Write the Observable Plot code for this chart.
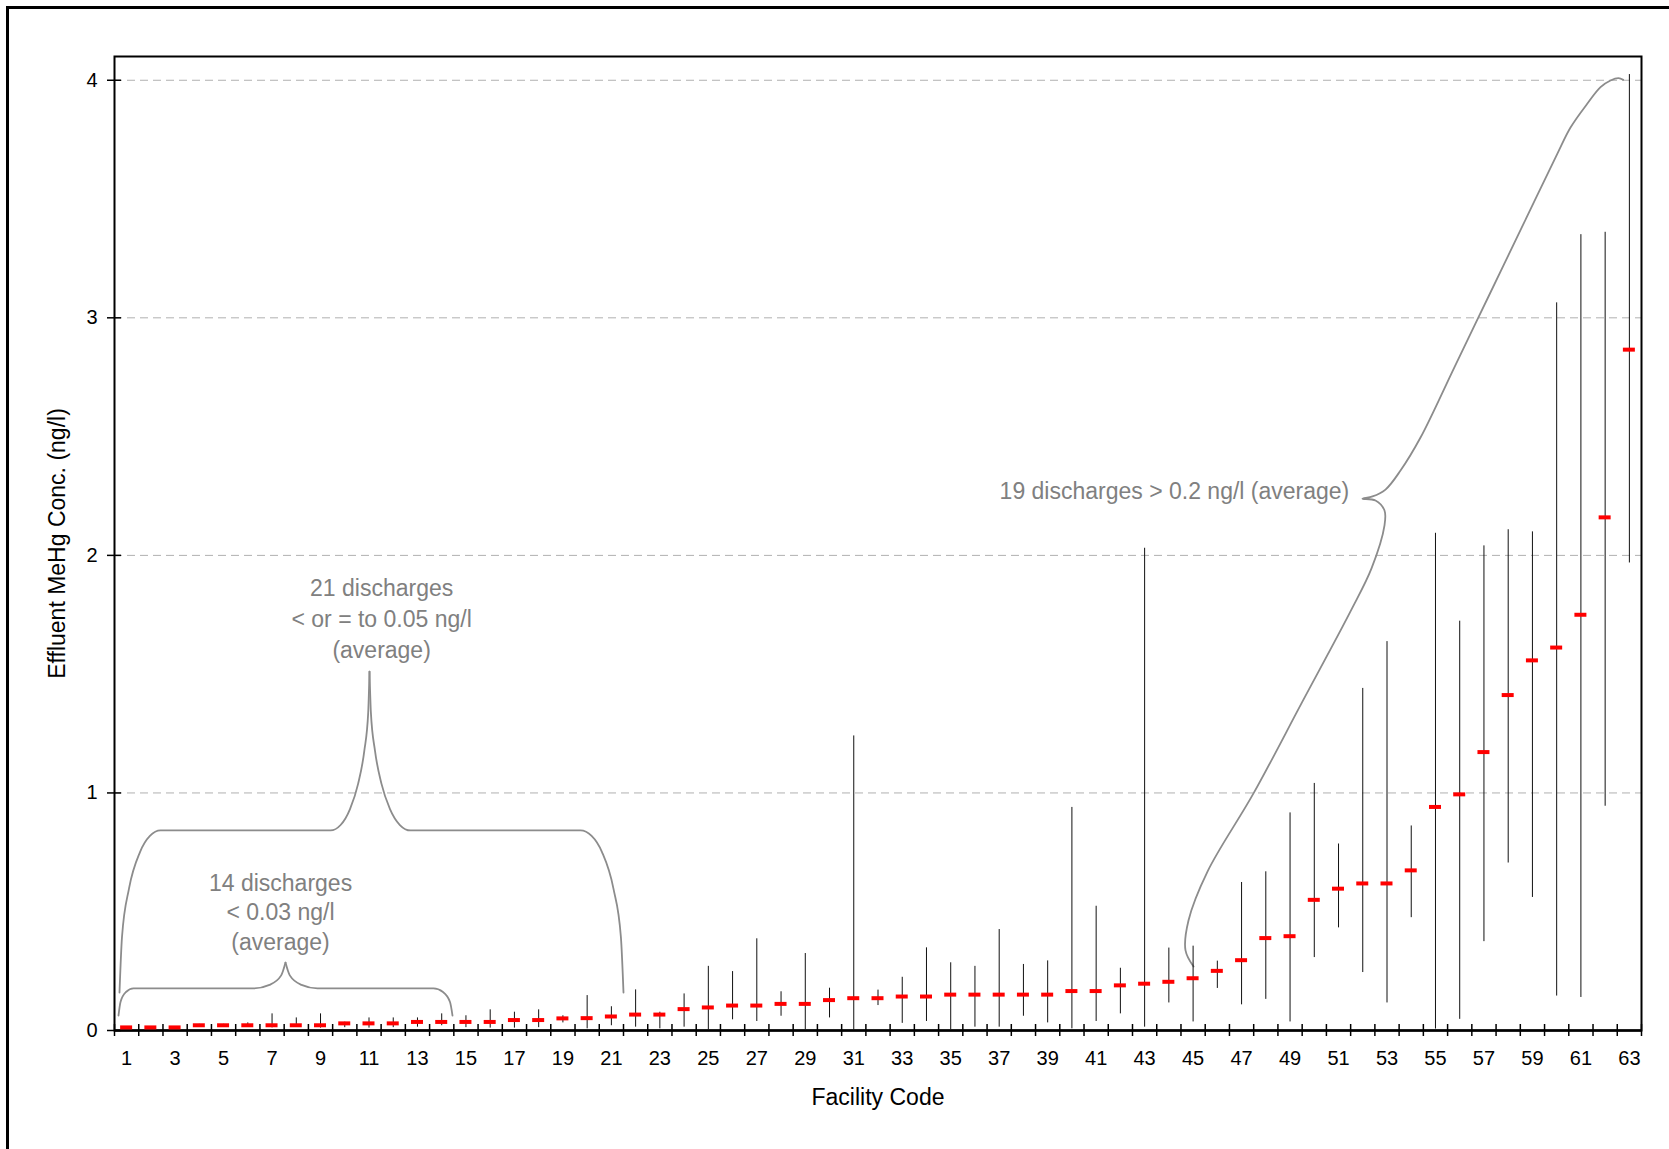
<!DOCTYPE html>
<html><head><meta charset="utf-8">
<script src="https://cdn.jsdelivr.net/npm/d3@7"></script>
<script src="https://cdn.jsdelivr.net/npm/@observablehq/plot@0.6"></script>
<style>
html,body{margin:0;padding:0;background:#fff;}
#wrap{position:relative;width:1669px;height:1149px;overflow:hidden;}
#border{position:absolute;left:6px;top:6px;width:1700px;height:1200px;border-left:3px solid #000;border-top:3px solid #000;pointer-events:none;}
</style></head><body>
<div id="wrap"><div id="chart"></div><div id="border"></div></div>
<script>
const facilities = [1,2,3,4,5,6,7,8,9,10,11,12,13,14,15,16,17,18,19,20,21,22,23,24,25,26,27,28,29,30,31,32,33,34,35,36,37,38,39,40,41,42,43,44,45,46,47,48,49,50,51,52,53,54,55,56,57,58,59,60,61,62,63];
const meanConc = [0.013,0.013,0.013,0.022,0.022,0.022,0.022,0.022,0.022,0.03,
 0.03,0.03,0.036,0.036,0.036,0.036,0.044,0.044,0.051,0.052,
 0.059,0.067,0.067,0.09,0.097,0.105,0.105,0.112,0.112,0.128,
 0.136,0.136,0.143,0.143,0.151,0.151,0.151,0.151,0.151,0.166,
 0.166,0.19,0.197,0.205,0.22,0.251,0.296,0.389,0.397,0.55,
 0.597,0.619,0.619,0.674,0.941,0.994,1.172,1.412,1.558,1.612,
 1.75,2.16,2.866];
const lowConc = [0.013,0.013,0.013,0.018,0.018,0.015,0.011,0.015,0.01,0.012,
 0.01,0.012,0.014,0.02,0.012,0.01,0.01,0.012,0.032,0.007,
 0.02,0.014,0.007,0.014,0.003,0.045,0.038,0.06,0.003,0.053,
 0.002,0.105,0.03,0.038,0.003,0.014,0.014,0.06,0.032,0.007,
 0.038,0.07,0.014,0.116,0.036,0.177,0.108,0.131,0.036,0.307,
 0.432,0.244,0.116,0.475,0.006,0.047,0.374,0.705,0.56,0.145,
 0.139,0.944,1.968];
const highConc = [0.013,0.013,0.013,0.026,0.026,0.032,0.07,0.053,0.07,0.035,
 0.053,0.053,0.053,0.07,0.062,0.087,0.077,0.087,0.062,0.147,
 0.1,0.171,0.077,0.154,0.27,0.248,0.386,0.163,0.324,0.178,
 1.24,0.17,0.224,0.348,0.285,0.27,0.425,0.278,0.293,0.939,
 0.523,0.262,2.03,0.347,0.355,0.292,0.623,0.668,0.916,1.04,
 0.785,1.44,1.637,0.861,2.093,1.723,2.04,2.108,2.099,3.063,
 3.35,3.36,4.024];

const yTicks = [0,1,2,3,4];
const gridValues = [1,2,3,4];
const xTitle = "Facility Code";
const yTitle = "Effluent MeHg Conc. (ng/l)";

// annotation texts (centre positions in data units)
const ann21Text = "21 discharges\n< or = to 0.05 ng/l\n(average)";
const ann21Pos = [11.52, 1.742];
const ann14Text = "14 discharges\n< 0.03 ng/l\n(average)";
const ann14Pos = [7.35, 0.503];
const ann19Text = "19 discharges > 0.2 ng/l (average)";
const ann19Pos = [44.23, 2.27];

// brace outlines (data units)
const brace21LeftX = [0.706,0.809,1.102,1.552,1.961,2.398,9.412,9.828,10.216,10.550,10.806,10.967,11.021];
const brace21LeftY = [0.160,0.393,0.599,0.751,0.819,0.842,0.842,0.865,0.932,1.038,1.177,1.338,1.511];
const brace21RightX = [11.021,11.078,11.248,11.516,11.866,12.275,12.712,19.726,20.184,20.613,21.083,21.393,21.500];
const brace21RightY = [1.511,1.338,1.177,1.038,0.932,0.865,0.842,0.842,0.819,0.751,0.598,0.393,0.160];
const brace14LeftX = [0.665,0.748,0.974,1.284,6.235,6.895,7.378,7.555];
const brace14LeftY = [0.063,0.120,0.162,0.177,0.177,0.192,0.232,0.286];
const brace14RightX = [7.555,7.732,8.215,8.875,13.661,14.053,14.342,14.445];
const brace14RightY = [0.286,0.232,0.192,0.177,0.177,0.162,0.120,0.063];
const brace19X = [62.745,62.551,62.221,61.809,61.261,60.571,60.035,58.621,57.208,55.795,54.383,53.557,52.938,52.402,51.989,52.526,52.897,52.897,52.361,51.494,49.493,47.492,45.594,44.810,44.687,45.017];
const brace19Y = [4.002,4.009,3.999,3.971,3.901,3.801,3.692,3.393,3.094,2.795,2.496,2.357,2.277,2.248,2.239,2.231,2.189,2.126,1.945,1.764,1.381,0.998,0.669,0.463,0.337,0.269];

const data = facilities.map((f, i) => ({fac: f, mean: meanConc[i], low: lowConc[i], high: highConc[i]}));
const xBounds = facilities.map(f => f - 0.5).concat([facilities[facilities.length - 1] + 0.5]);
const xLabels = facilities.filter(f => f % 2 === 1);
const xDomain = [xBounds[0], xBounds[xBounds.length - 1]];

const monoBraces = [];
[[brace21LeftX, brace21LeftY, "a"], [brace21RightX, brace21RightY, "b"], [brace14LeftX, brace14LeftY, "c"], [brace14RightX, brace14RightY, "d"]]
  .forEach(([xs, ys, g]) => xs.forEach((x, i) => monoBraces.push({x, y: ys[i], g})));
const brace19 = brace19X.map((x, i) => ({x, y: brace19Y[i]}));

const braceStyle = {stroke: "#8c8c8c", strokeWidth: 1.8, fill: "none"};
const annStyle = {fill: "#808080", fontSize: 23, textAnchor: "middle", lineAnchor: "middle"};

const chart = Plot.plot({
  width: 1669,
  height: 1149,
  marginLeft: 114,
  marginRight: 28,
  marginTop: 56,
  marginBottom: 119,
  x: {domain: xDomain, axis: null},
  y: {domain: [0, 4.1], axis: null},
  style: {fontFamily: "'Liberation Sans', Arial, sans-serif", background: "white", color: "black"},
  marks: [
    Plot.ruleY(gridValues, {y: d => d, stroke: "#b0b0b0", strokeWidth: 1, strokeDasharray: "8,5"}),
    Plot.frame({stroke: "#000", strokeWidth: 2}),
    Plot.ruleY([0], {y: d => d, stroke: "#000", strokeWidth: 2.5}),
    Plot.ruleX(xBounds, {x: d => d, y1: 0, y2: 0, insetTop: -6, insetBottom: -6, stroke: "#000", strokeWidth: 1.5}),
    Plot.ruleY(yTicks, {y: d => d, x1: xDomain[0], x2: xDomain[0], insetLeft: -7, insetRight: -7, stroke: "#000", strokeWidth: 1.5}),
    Plot.line(monoBraces, {x: "x", y: "y", z: "g", curve: "monotone-x", ...braceStyle}),
    Plot.line(brace19, {x: "x", y: "y", curve: "catmull-rom", ...braceStyle}),
    Plot.ruleX(data, {x: "fac", y1: "low", y2: "high", stroke: "#111", strokeWidth: 1}),
    Plot.ruleY(data, {y: "mean", x1: "fac", x2: "fac", insetLeft: -6, insetRight: -6, stroke: "#ff0000", strokeWidth: 4}),
    Plot.text(xLabels, {x: d => d, frameAnchor: "bottom", dy: 28, fontSize: 20, fill: "#000", textAnchor: "middle", lineAnchor: "middle"}),
    Plot.text(yTicks, {y: d => d, frameAnchor: "left", dx: -17, textAnchor: "end", lineAnchor: "middle", fontSize: 20, fill: "#000"}),
    Plot.text([xTitle], {frameAnchor: "bottom", dy: 67.5, fontSize: 23, fill: "#000", textAnchor: "middle", lineAnchor: "middle"}),
    Plot.text([yTitle], {frameAnchor: "left", dx: -57, rotate: -90, fontSize: 23, fill: "#000", textAnchor: "middle", lineAnchor: "middle"}),
    Plot.text([ann21Text], {x: () => ann21Pos[0], y: () => ann21Pos[1], lineHeight: 1.35, ...annStyle}),
    Plot.text([ann14Text], {x: () => ann14Pos[0], y: () => ann14Pos[1], lineHeight: 1.28, ...annStyle}),
    Plot.text([ann19Text], {x: () => ann19Pos[0], y: () => ann19Pos[1], ...annStyle})
  ]
});
document.getElementById("chart").appendChild(chart);
</script>
</body></html>
